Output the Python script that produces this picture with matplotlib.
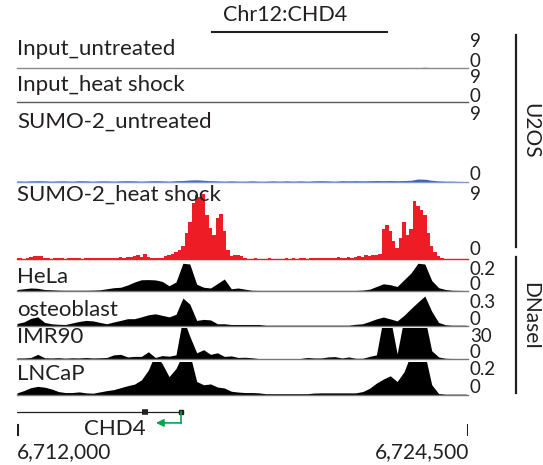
import numpy as np
import matplotlib
matplotlib.use("Agg")
import matplotlib.pyplot as plt
from matplotlib.lines import Line2D

plt.rcParams['font.family'] = ['Lato', 'DejaVu Sans']

# ---------- data ----------
view_start, view_end = 6711972, 6724500
sig_bin = 96      # bp per bin, ChIP tracks (fine)
dn_bin = 192      # bp per bin, DNaseI / input tracks

sumo2_hs = [0.1, 0.1, 0.05, 0.1, 0.3, 0.4, 0.45, 0.35, 0.2,
            0.1, 0.05, 0.1, 0.15, 0.1, 0.05, 0.1, 0.1, 0.15, 0.1, 0.05, 0.1,
            0.15, 0.1, 0.2, 0.1, 0.15, 0.2, 0.1, 0.15, 0.2, 0.25,
            0.2, 0.3, 0.25, 0.35, 0.6, 0.3, 0.7, 0.3,
            0.1, 0.15, 0.1, 0.2, 0.35,
            0.5, 0.7, 0.9, 1.2, 1.8, 3.5, 5.0, 7.6, 8.7, 8.4, 8.8, 6.0, 4.2, 3.3, 5.5, 6.1, 3.8, 1.2, 0.4, 0.5,
            0.6, 0.4, 0.2,
            0.05, 0.05, 0.1, 0.05, 0.05, 0.05, 0.1, 0.05, 0.05, 0.05, 0.05, 0.1, 0.05,
            0.1, 0.05, 0.15, 0.1, 0.05, 0.2, 0.1, 0.15, 0.1, 0.2, 0.15, 0.1, 0.2, 0.3, 0.15, 0.2, 0.25, 0.2, 0.3,
            0.4, 0.3, 0.5, 0.45, 0.55,
            0.6, 0.7, 4.0, 4.6, 3.8, 2.4, 1.5, 2.8, 5.0, 3.3, 4.0, 7.9, 7.2, 6.6, 6.0, 3.5, 1.8, 1.0, 0.4,
            0.1, 0, 0, 0, 0, 0, 0, 0]

sumo2_untr = [0.08, 0.04, 0.08, 0.1, 0.08, 0.04, 0.08, 0.08, 0.04, 0.1, 0.08, 0.04, 0.08, 0.08, 0.04,
              0.08, 0.1, 0.08, 0.04, 0.08, 0.1, 0.08, 0.04, 0.1, 0.12, 0.18, 0.2, 0.15, 0.1, 0.08,
              0.04, 0.08, 0.04, 0.04, 0.08, 0.04, 0.04, 0.08, 0.04, 0.08, 0.04, 0.08, 0.04, 0.08, 0.1,
              0.08, 0.04, 0.1, 0.08, 0.1, 0.08, 0.1, 0.12, 0.1, 0.12, 0.1, 0.12, 0.15, 0.3, 0.28,
              0.15, 0.08, 0.04, 0.04, 0.0, 0.0]

input_untr = [0.1, 0.0, 0.05, 0.1, 0.0, 0.1, 0.05, 0.0, 0.1, 0.0, 0.05, 0.1, 0.0, 0.05, 0.0,
              0.1, 0.0, 0.05, 0.1, 0.05, 0.0, 0.1, 0.15, 0.1, 0.05, 0.1, 0.0, 0.1, 0.05, 0.0,
              0.1, 0.0, 0.05, 0.0, 0.1, 0.0, 0.05, 0.0, 0.1, 0.05, 0.0, 0.1, 0.0, 0.05, 0.1,
              0.0, 0.1, 0.05, 0.1, 0.0, 0.1, 0.05, 0.1, 0.0, 0.1, 0.05, 0.1, 0.15, 0.1, 0.2,
              0.1, 0.05, 0.0, 0.0, 0.0, 0.0]

input_hs = [0.05, 0.0, 0.0, 0.05, 0.0, 0.0, 0.05, 0.0, 0.0, 0.0, 0.05, 0.0, 0.0, 0.05, 0.0,
            0.0, 0.05, 0.0, 0.0, 0.05, 0.0, 0.0, 0.05, 0.0, 0.05, 0.0, 0.0, 0.05, 0.0, 0.0,
            0.0, 0.05, 0.0, 0.0, 0.0, 0.05, 0.0, 0.0, 0.05, 0.0, 0.0, 0.0, 0.05, 0.1, 0.05,
            0.0, 0.0, 0.05, 0.0, 0.0, 0.05, 0.0, 0.0, 0.05, 0.0, 0.0, 0.05, 0.0, 0.0, 0.0,
            0.0, 0.0, 0.0, 0.0, 0.0, 0.0]

hela = [0.01, 0.015, 0.02, 0.018, 0.01, 0.008, 0.006, 0.005, 0.005, 0.005, 0.005, 0.006, 0.008,
        0.015, 0.022, 0.025, 0.04, 0.06, 0.075, 0.076, 0.074, 0.064, 0.035, 0.06, 0.185, 0.18,
        0.045, 0.025, 0.02, 0.05, 0.08, 0.015, 0.02, 0.012, 0.005, 0.004, 0.004, 0.004, 0.004,
        0.004, 0.004, 0.004, 0.004, 0.004, 0.004, 0.004, 0.004, 0.004, 0.004, 0.004, 0.006,
        0.012, 0.03, 0.048, 0.042, 0.03, 0.075, 0.12, 0.185, 0.18, 0.07, 0.022, 0.01, 0.005,
        0.004, 0.003]

osteoblast = [0.02, 0.035, 0.07, 0.085, 0.03, 0.017, 0.012, 0.01, 0.025, 0.04, 0.05, 0.045,
              0.03, 0.017, 0.035, 0.05, 0.067, 0.067, 0.085, 0.105, 0.115, 0.1, 0.085, 0.11,
              0.27, 0.21, 0.05, 0.06, 0.055, 0.017, 0.017, 0.01, 0.01, 0.01, 0.01, 0.01,
              0.003, 0.003, 0.003, 0.003, 0.003, 0.003, 0.003, 0.003, 0.003, 0.003, 0.003,
              0.003, 0.003, 0.012, 0.017, 0.04, 0.065, 0.083, 0.065, 0.045, 0.1, 0.167, 0.23,
              0.29, 0.14, 0.03, 0.007, 0.003, 0.003, 0.003]

imr90 = [1, 1, 1.5, 4.5, 1.2, 1, 1.3, 0.8, 1.2, 1, 1.5, 1, 1.2, 1.5, 4, 4.5, 2, 2.5, 2.5, 7,
         1.5, 3.3, 2.7, 4, 40, 22, 6, 9, 4.5, 6, 2.5, 3, 1.5, 1.7, 1.2, 0.4, 0.3, 0.3, 0.3,
         0.3, 0.3, 0.5, 1.5, 1, 1, 2, 2.3, 1, 2, 0.7, 0.7, 2.5, 4, 40, 40, 5, 40, 40, 40, 40,
         8, 2, 0.7, 0.5, 0.4, 0.3]

lncap = [0.01, 0.024, 0.042, 0.05, 0.045, 0.034, 0.018, 0.012, 0.012, 0.016, 0.01, 0.008,
         0.016, 0.024, 0.03, 0.042, 0.054, 0.064, 0.09, 0.15, 0.25, 0.19, 0.11, 0.16, 0.25,
         0.25, 0.08, 0.06, 0.065, 0.046, 0.04, 0.02, 0.015, 0.012, 0.012, 0.01, 0.005, 0.005,
         0.005, 0.005, 0.005, 0.005, 0.005, 0.009, 0.01, 0.01, 0.01, 0.01, 0.01, 0.01, 0.018,
         0.038, 0.07, 0.095, 0.115, 0.08, 0.14, 0.25, 0.25, 0.25, 0.06, 0.006, 0.002, 0.002,
         0.002, 0.002]

# gene model (minus strand, extends left past the view)
gene_name = "CHD4"
gene_start, gene_tss = 6700000, 6716530
thick_start, thick_end = 6715444, 6715611
arrow_end = 6715833
coord_ticks = [6712000, 6724500]
coord_labels = ["6,712,000", "6,724,500"]

# name, values, bin size, y max, top label, fill colour, baseline colour
tracks = [
    ("Input_untreated",   input_untr, dn_bin, 9, "9", "#555555", "#8a8a8a"),
    ("Input_heat shock",  input_hs,   dn_bin, 9, "9", "#444444", "#5a5a5a"),
    ("SUMO-2_untreated",  sumo2_untr, dn_bin, 9, "9", "#3b5fb5", "#7f97d2"),
    ("SUMO-2_heat shock", sumo2_hs,   sig_bin, 9, "9", "#ee1c25", "#ee1c25"),
    ("HeLa",       hela,       dn_bin, 0.2, "0.2", "black", "#777777"),
    ("osteoblast", osteoblast, dn_bin, 0.3, "0.3", "black", "#777777"),
    ("IMR90",      imr90,      dn_bin, 30,  "30",  "black", "#777777"),
    ("LNCaP",      lncap,      dn_bin, 0.2, "0.2", "black", "#777777"),
]

# ---------- layout (pixels) ----------
W, H = 543, 465
# (axes top, axes bottom, name baseline, max-label baseline, zero-label baseline)
rows = [(35, 68, 55, 47, 67),
        (71, 102.5, 91, 83, 102),
        (108, 181.5, 128, 120, 180),
        (192.5, 259, 201, 200, 255),
        (261, 291, 283, 275, 290),
        (295, 325.5, 316, 308, 325),
        (328, 359, 343, 342, 358),
        (362, 394.5, 380, 375, 393)]
x0, x1 = 17, 468

def fx(px): return px / W
def fy(py): return 1 - py / H

fig = plt.figure(figsize=(W / 100, H / 100), dpi=100)

for (name, vals, binw, ymax, toplab, col, basecol), (top, bot, nb, mb, zb) in zip(tracks, rows):
    ax = fig.add_axes([fx(x0), fy(bot), fx(x1) - fx(x0), (bot - top) / H])
    v = np.array(vals, dtype=float)
    pos = view_start + np.arange(len(v)) * binw
    if binw == sig_bin:
        ax.fill_between(pos, v, step="mid", color=col, lw=0)
    else:
        ax.fill_between(pos, v, color=col, lw=0)
    ax.axhline(0, color=basecol, lw=1.0, clip_on=False)
    ax.set_xlim(view_start, view_end)
    ax.set_ylim(0, ymax)
    ax.axis("off")
    fig.text(fx(17), fy(nb), name, fontsize=16, color="#231f20", va="baseline", ha="left")
    fig.text(fx(470), fy(mb), toplab, fontsize=13.5, color="#231f20", va="baseline", ha="left")
    fig.text(fx(470), fy(zb), "0", fontsize=13.5, color="#231f20", va="baseline", ha="left")

# gene model + coordinates
gax = fig.add_axes([fx(x0), fy(440), fx(x1) - fx(x0), 38 / H])
gax.set_xlim(view_start, view_end)
gax.set_ylim(0, 1)
gax.axis("off")
gax.plot([gene_start, gene_tss], [0.75, 0.75], color="#231f20", lw=0.9, solid_capstyle="butt")
gax.plot([thick_start, thick_end], [0.75, 0.75], color="#231f20", lw=4, solid_capstyle="butt")
gax.plot([gene_tss], [0.75], marker="s", ms=2.5, color="#231f20")
gax.plot([gene_tss, gene_tss], [0.75, 0.45], color="#00a651", lw=1.2)
gax.annotate("", xy=(arrow_end, 0.45), xytext=(gene_tss, 0.45),
             arrowprops=dict(arrowstyle="-|>", color="#00a651", lw=1.2,
                             mutation_scale=11, shrinkA=0, shrinkB=0))
for t in coord_ticks:
    gax.plot([t, t], [0.13, 0.40], color="#231f20", lw=1.5)
gax.text(6714700, 0.28, gene_name, fontsize=16, color="#231f20", ha="center", va="center")

fig.text(fx(17), fy(458), coord_labels[0], fontsize=15, color="#231f20", ha="left", va="baseline")
fig.text(fx(469), fy(458), coord_labels[1], fontsize=15, color="#231f20", ha="right", va="baseline")

# title with rule
fig.text(fx(285), fy(21), "Chr12:CHD4", fontsize=15.5, color="#231f20", ha="center", va="baseline")
fig.add_artist(Line2D([fx(212), fx(387)], [fy(32), fy(32)], color="#231f20", lw=1.5))

# cell-type brackets
fig.add_artist(Line2D([fx(516), fx(516)], [fy(35), fy(247)], color="#231f20", lw=1.6))
fig.add_artist(Line2D([fx(516), fx(516)], [fy(257), fy(393)], color="#231f20", lw=1.6))
fig.text(fx(530), fy(131), "U2OS", fontsize=15, rotation=270, ha="center", va="center", color="#231f20")
fig.text(fx(530), fy(316), "DNaseI", fontsize=15, rotation=270, ha="center", va="center", color="#231f20")

fig.savefig("out.png", dpi=100)
